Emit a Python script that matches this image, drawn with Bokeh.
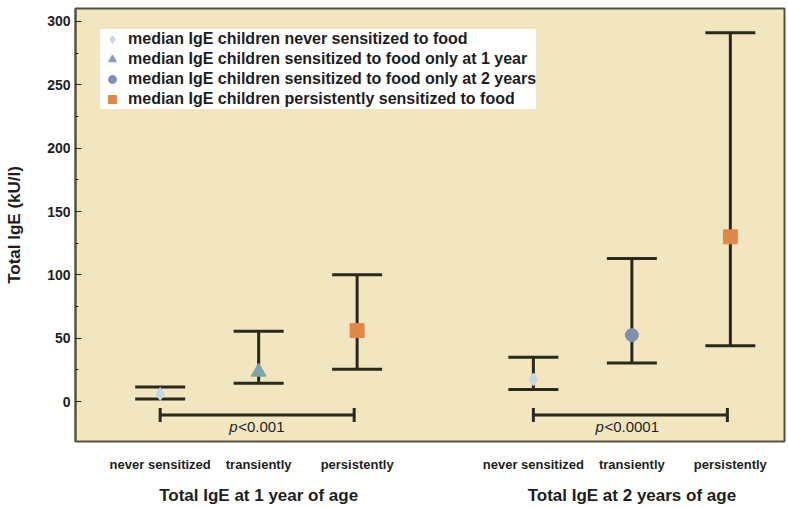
from bokeh.plotting import figure
from bokeh.models import (ColumnDataSource, Whisker, TeeHead, FixedTicker, LinearAxis,
                          Legend, LegendItem, Range1d)
from bokeh.core.properties import value
from bokeh.embed import file_html
from bokeh.resources import INLINE

# ---------------- data ----------------
groups = ["Total IgE at 1 year of age", "Total IgE at 2 years of age"]
categories = ["never sensitized", "transiently", "persistently"]

median_1y = [6, 23.5, 56]
lower_1y = [2, 14.5, 25.5]
upper_1y = [11.5, 55.5, 100]

median_2y = [17.5, 52.5, 130]
lower_2y = [9.5, 30.5, 44]
upper_2y = [35, 113, 291]

p_values = ["<0.001", "<0.0001"]

legend_labels = [
    "median IgE children never sensitized to food",
    "median IgE children sensitized to food only at 1 year",
    "median IgE children sensitized to food only at 2 years",
    "median IgE children persistently sensitized to food",
]
# which legend series each (group, category) median belongs to
series_index = [[0, 1, 3], [0, 2, 3]]

y_ticks = [0, 50, 100, 150, 200, 250, 300]

# ---------------- styling / layout ----------------
FONT = "Liberation Sans"
INK = "#2b281c"
TXT = "#1e1e1e"
BG = "#f2e6c1"
marker_types = ["diamond", "triangle", "circle", "square"]
marker_colors = ["#c7d6e4", "#7fa3ab", "#8290ad", "#e0884b"]
marker_sizes = [13, 15, 13, 14]
CAT_STEP = 100
GROUP_STEP = 379

medians = [median_1y, median_2y]
lowers = [lower_1y, lower_2y]
uppers = [upper_1y, upper_2y]

xs, lo, hi, md, ser = [], [], [], [], []
for g in range(len(groups)):
    for c in range(len(categories)):
        xs.append(g * GROUP_STEP + c * CAT_STEP)
        lo.append(lowers[g][c])
        hi.append(uppers[g][c])
        md.append(medians[g][c])
        ser.append(series_index[g][c])

p = figure(width=788, height=507, output_backend="svg", toolbar_location=None,
           x_range=Range1d(-86, 634), y_range=Range1d(-31.5, 310.2),
           x_axis_location=None, min_border_left=75, min_border_right=4,
           min_border_top=8, min_border_bottom=65)
p.background_fill_color = BG
p.border_fill_color = "white"
p.outline_line_color = "#55523f"
p.outline_line_width = 2
p.xgrid.visible = False
p.ygrid.visible = False

# y axis
ya = p.yaxis[0]
ya.ticker = FixedTicker(ticks=y_ticks,
                        minor_ticks=[(a + b) / 2 for a, b in zip(y_ticks[:-1], y_ticks[1:])])
ya.major_tick_in = 6
ya.major_tick_out = 0
ya.minor_tick_in = 3
ya.minor_tick_out = 0
ya.major_tick_line_color = INK
ya.minor_tick_line_color = INK
ya.axis_line_color = "#55523f"
ya.axis_line_width = 2
ya.major_label_text_font = FONT
ya.major_label_text_font_style = "bold"
ya.major_label_text_font_size = "14px"
ya.major_label_text_color = TXT
ya.major_label_standoff = 5
ya.axis_label = "Total IgE (kU/l)"
ya.axis_label_text_font = FONT
ya.axis_label_text_font_style = "bold"
ya.axis_label_text_font_size = "17px"
ya.axis_label_text_color = TXT
ya.axis_label_standoff = 20

# x axis: categories, then groups
ax1 = LinearAxis(ticker=FixedTicker(ticks=xs),
                 major_label_overrides={x: categories[i % 3] for i, x in enumerate(xs)})
ax2_ticks = [g * GROUP_STEP + CAT_STEP for g in range(len(groups))]
ax2 = LinearAxis(ticker=FixedTicker(ticks=ax2_ticks),
                 major_label_overrides={x: groups[i] for i, x in enumerate(ax2_ticks)})
for ax, fs, so in [(ax1, "13px", 15), (ax2, "17px", 11)]:
    ax.axis_line_color = None
    ax.major_tick_line_color = None
    ax.minor_tick_line_color = None
    ax.major_tick_in = 0
    ax.major_tick_out = 0
    ax.major_label_text_font = FONT
    ax.major_label_text_font_style = "bold"
    ax.major_label_text_font_size = fs
    ax.major_label_text_color = TXT
    ax.major_label_standoff = so
p.add_layout(ax1, "below")
p.add_layout(ax2, "below")

# error bars (range)
src = ColumnDataSource(dict(x=xs, lower=lo, upper=hi))
wh = Whisker(base="x", lower="lower", upper="upper", source=src,
             line_color=INK, line_width=3, level="underlay",
             upper_head=TeeHead(size=50, line_color=INK, line_width=3),
             lower_head=TeeHead(size=50, line_color=INK, line_width=3))
p.add_layout(wh)

# medians
items = []
for s in range(len(legend_labels)):
    sx = [x for x, k in zip(xs, ser) if k == s]
    sy = [m for m, k in zip(md, ser) if k == s]
    r = p.scatter(sx, sy, marker=marker_types[s], size=marker_sizes[s],
                  fill_color=marker_colors[s], line_color=marker_colors[s])
    items.append(LegendItem(label=legend_labels[s], renderers=[r]))

# significance brackets
BR_Y = -10.5
TXT_Y = -20
bx0 = [g * GROUP_STEP for g in range(len(groups))]
bx1 = [g * GROUP_STEP + 2 * CAT_STEP - 3 for g in range(len(groups))]
bsrc = ColumnDataSource(dict(y=[BR_Y] * len(groups), x0=bx0, x1=bx1))
br = Whisker(dimension="width", base="y", lower="x0", upper="x1", source=bsrc,
             line_color=INK, line_width=3,
             upper_head=TeeHead(size=14, line_color=INK, line_width=3),
             lower_head=TeeHead(size=14, line_color=INK, line_width=3))
p.add_layout(br)
cx = [(a + b) / 2 for a, b in zip(bx0, bx1)]
p.text(x=cx, y=[TXT_Y] * len(groups), text=["p"] * len(groups),
       text_font=value(FONT), text_font_style="italic", text_font_size="15px",
       text_align="left", text_baseline="middle", text_color=TXT,
       x_offset=[-28, -35])
p.text(x=cx, y=[TXT_Y] * len(groups), text=p_values,
       text_font=value(FONT), text_font_size="15px",
       text_align="left", text_baseline="middle", text_color=TXT,
       x_offset=[-19, -26])

legend = Legend(items=items, location=(25, 332))
legend.background_fill_color = "white"
legend.background_fill_alpha = 1
legend.border_line_color = None
legend.label_text_font = FONT
legend.label_text_font_style = "bold"
legend.label_text_font_size = "16px"
legend.label_text_color = TXT
legend.label_height = 18
legend.glyph_height = 20
legend.glyph_width = 24
legend.spacing = 0
legend.padding = 1
legend.margin = 0
legend.label_standoff = 4
p.add_layout(legend)

open("out.html", "w").write(file_html(p, INLINE))
